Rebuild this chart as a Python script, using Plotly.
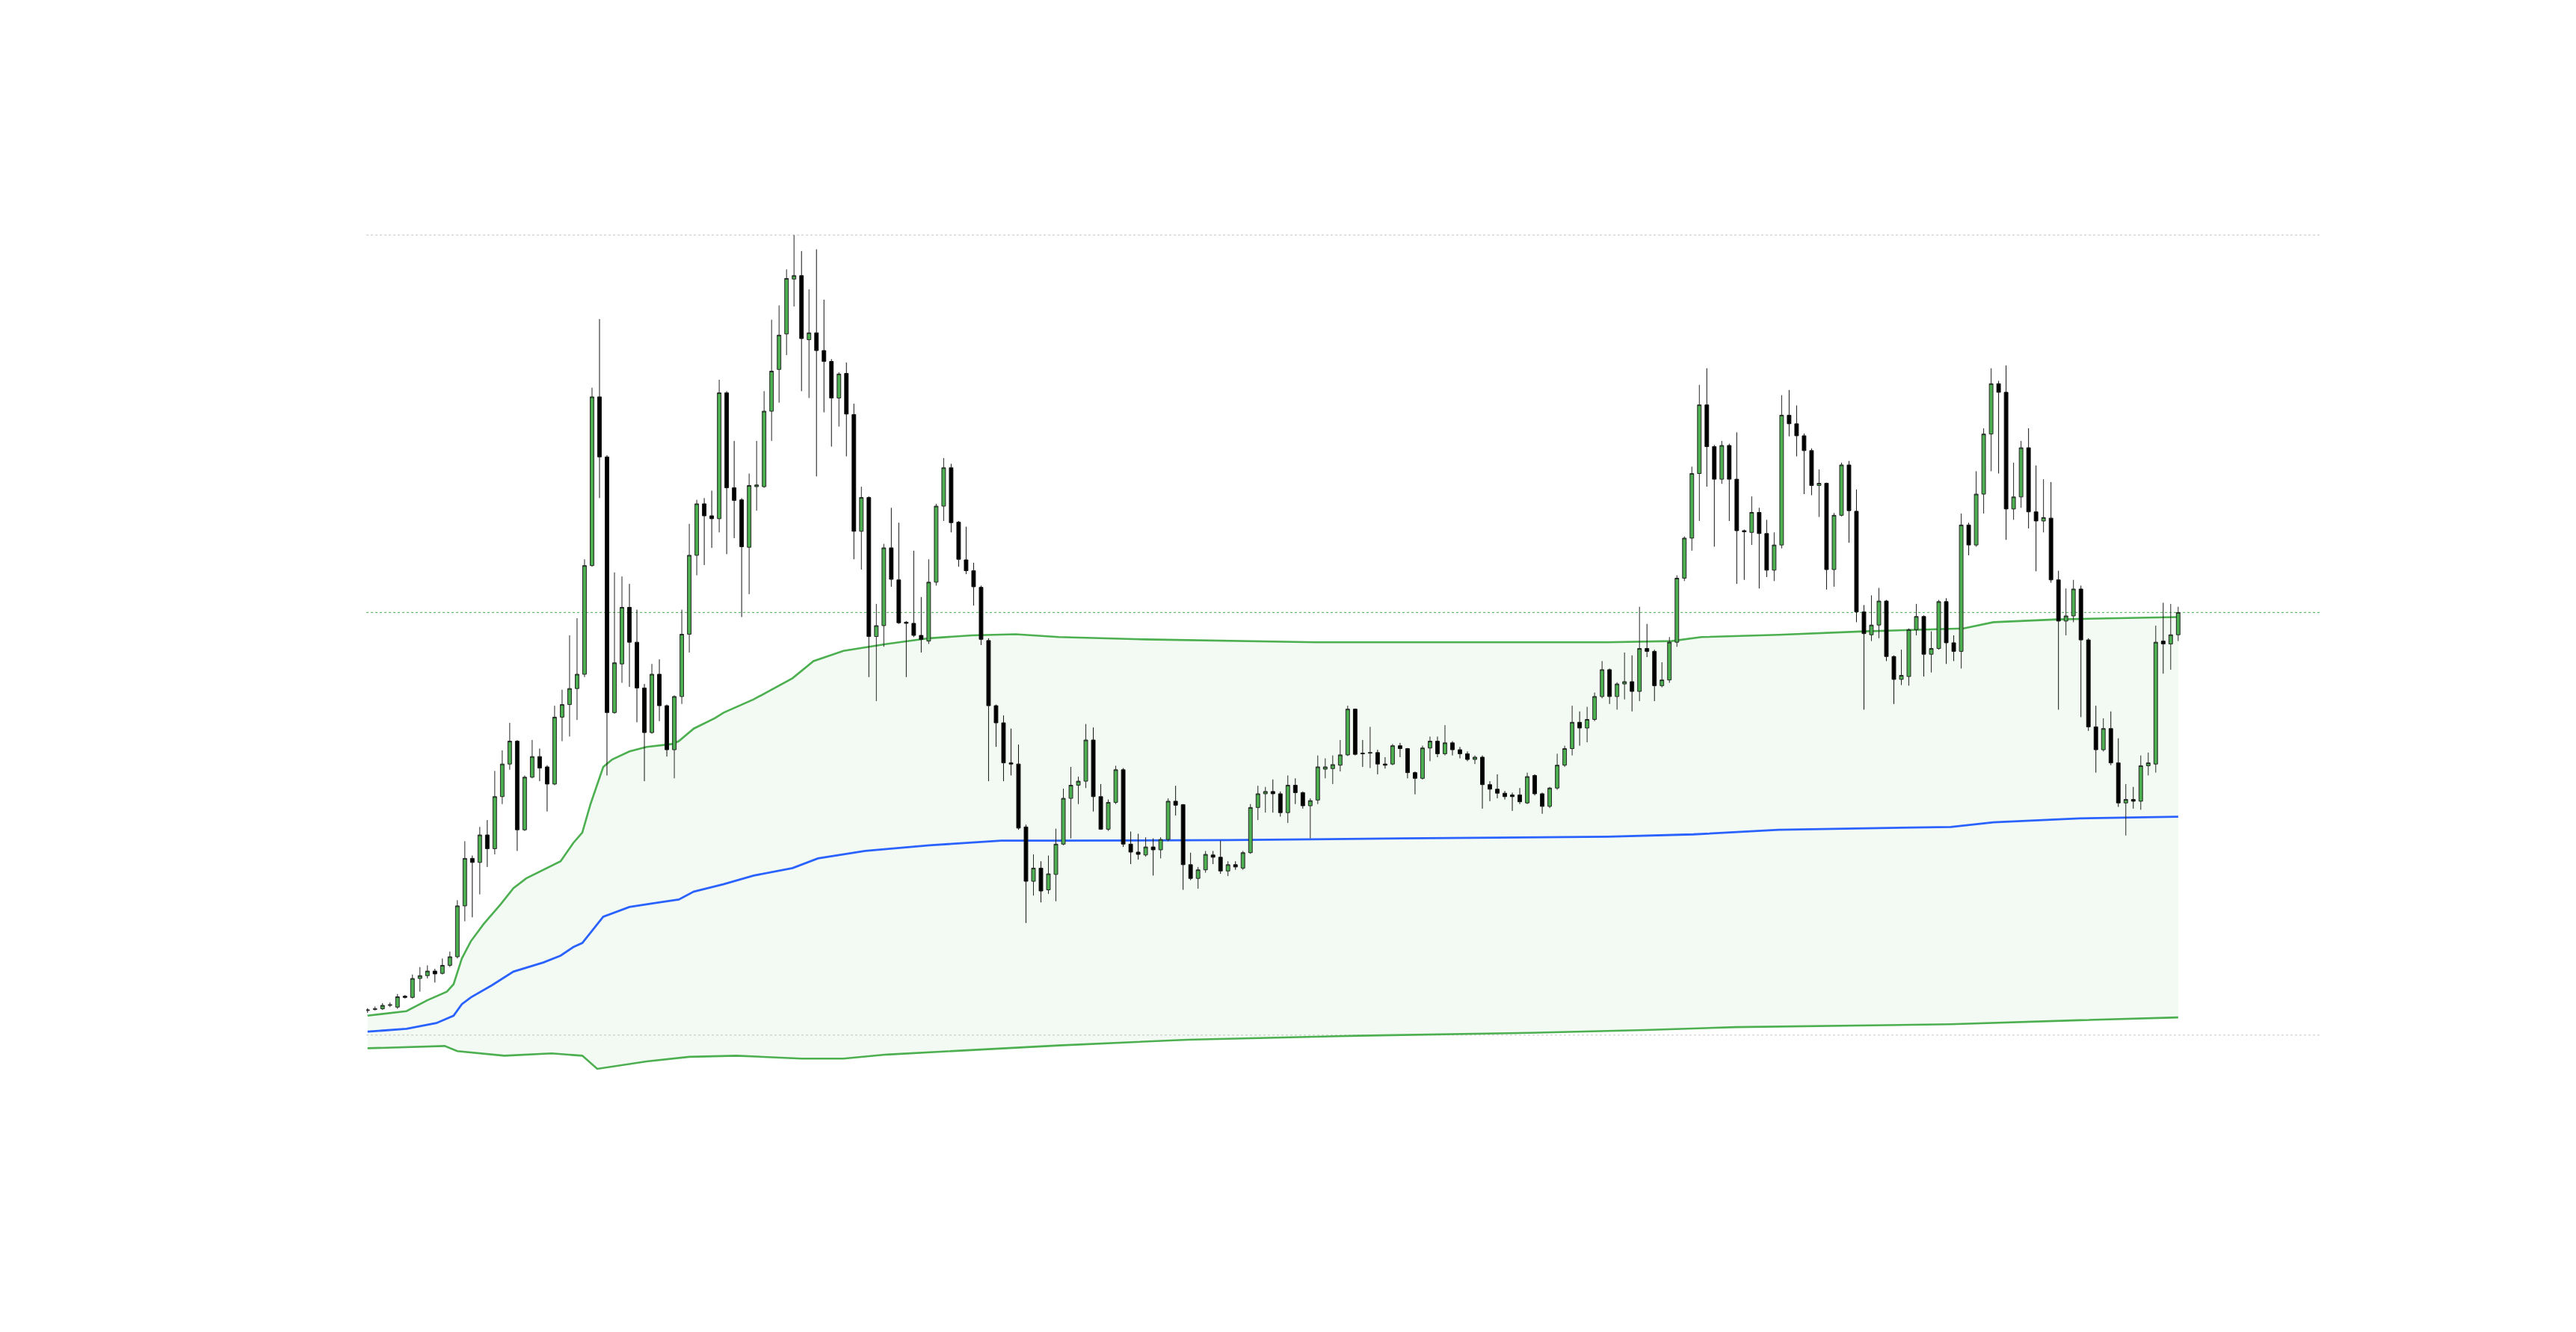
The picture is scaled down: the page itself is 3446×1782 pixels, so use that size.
import plotly.graph_objects as go

# ---- candle data (arbitrary price units) ----
opens = [12.9,13.1,13.2,13.8,13.5,15.4,15.2,18.5,19.0,19.8,19.4,20.8,22.3,31.2,39.5,38.8,43.6,41.2,50.3,56.0,
         60.0,44.5,53.7,57.3,55.5,52.5,64.2,66.4,69.2,71.7,90.7,120.2,109.7,65.0,73.5,83.4,77.3,69.3,61.5,71.7,
         66.2,58.5,67.8,78.7,92.5,101.5,99.4,98.9,120.9,104.3,102.2,93.9,104.5,104.5,117.7,125.0,131.2,140.8,141.4,130.2,
         131.4,128.3,126.4,120.0,124.3,117.1,96.7,102.6,78.3,80.2,93.8,88.2,80.8,80.6,78.5,77.5,87.8,101.1,107.8,98.3,
         91.7,89.8,86.9,77.6,66.2,63.2,56.2,56.0,45.0,35.5,37.8,34.0,36.7,42.0,50.0,52.3,53.0,60.2,50.3,44.6,
         49.3,55.0,42.0,40.6,40.1,41.5,41.0,42.8,49.5,48.9,38.4,36.0,37.5,40.1,39.7,37.3,38.4,37.8,40.5,48.4,
         50.8,51.2,50.8,47.5,52.3,51.0,48.7,49.7,55.1,55.2,55.8,57.6,65.6,57.9,57.9,58.0,56.0,56.0,59.2,58.7,
         54.5,53.5,58.8,60.0,57.8,59.7,58.5,57.8,56.8,57.2,52.4,51.6,50.9,50.6,50.6,49.2,54.0,50.8,48.6,51.8,
         55.8,58.7,63.3,62.3,63.8,67.8,72.5,67.8,70.0,70.4,68.7,76.2,75.7,69.7,70.7,77.3,88.5,95.5,106.8,118.8,
         111.5,105.8,111.7,105.8,96.8,96.5,100.0,96.3,89.9,94.3,117.0,115.5,113.4,110.8,104.7,105.1,90.0,99.5,108.3,100.2,
         82.6,78.6,80.3,84.5,74.8,70.8,71.3,79.5,81.8,75.2,76.2,84.4,77.2,75.7,97.8,94.3,103.2,113.7,122.5,121.0,
         100.6,102.7,111.3,100.1,98.5,99.0,88.2,81.0,81.9,86.6,77.7,62.5,58.5,62.2,56.2,49.2,49.8,49.5,55.7,56.0,
         77.5,77.0,78.6]
highs = [13.3,13.6,14.2,14.3,15.8,15.6,19.2,20.5,20.8,20.2,22.0,23.2,32.2,42.5,40.0,45.0,46.2,54.8,58.4,63.2,
         60.2,54.0,60.2,58.7,55.8,66.2,69.0,78.5,81.5,91.8,121.8,133.8,110.0,89.5,88.8,87.5,83.0,70.0,73.5,74.3,
         66.4,68.0,83.0,98.0,102.2,102.5,103.8,123.2,121.2,112.5,102.5,106.8,112.5,121.2,133.7,136.2,142.5,148.5,145.7,139.0,
         146.0,137.2,126.8,124.5,126.2,119.0,104.5,102.8,84.0,94.5,100.8,98.2,81.0,93.3,85.2,91.8,101.5,109.5,108.5,98.5,
         97.5,91.2,87.2,78.0,66.4,64.5,62.2,59.4,45.4,40.2,39.0,40.0,44.7,51.7,55.5,53.8,63.0,62.4,52.5,49.8,
         55.7,55.3,44.2,43.8,43.2,43.0,43.2,50.0,52.2,49.0,40.5,38.0,40.8,40.8,42.6,39.0,39.0,40.8,49.0,52.2,
         52.0,53.3,51.2,54.0,53.5,51.2,50.0,57.5,57.0,57.5,60.2,66.2,65.7,60.2,62.5,58.5,57.2,59.5,59.7,58.8,
         54.7,59.2,60.8,60.8,62.8,60.0,59.0,58.2,57.5,57.5,53.0,54.2,51.3,51.0,51.8,54.5,54.2,51.0,52.0,57.8,
         59.2,66.2,65.2,66.0,68.5,74.0,72.7,70.3,75.5,75.0,83.5,80.5,76.0,73.8,78.2,89.0,95.8,108.0,122.3,125.2,
         111.8,112.5,112.0,114.0,97.0,102.8,100.8,98.7,96.5,120.5,121.4,118.7,113.8,111.2,107.5,105.2,99.9,108.7,109.0,104.0,
         83.8,85.5,86.8,84.7,75.0,76.0,79.7,84.0,82.0,79.2,84.7,85.0,78.5,99.8,98.2,107.2,114.7,125.2,123.0,125.7,
         108.7,112.5,114.7,108.2,105.8,105.3,89.8,86.7,88.2,87.2,78.0,66.2,64.0,65.2,60.5,52.5,52.0,57.5,58.0,80.2,
         84.2,84.0,83.5]
lows = [12.5,12.9,13.0,13.5,13.2,15.0,15.0,16.2,18.5,17.8,19.2,20.5,22.0,28.5,29.2,33.2,38.0,40.2,49.0,55.0,
        40.8,44.3,53.5,53.0,47.7,52.3,60.0,60.8,63.7,71.2,90.5,102.5,54.0,64.8,70.2,69.5,63.3,53.0,61.3,63.5,
        57.3,53.5,66.5,75.5,89.0,90.8,93.8,96.5,92.7,95.5,81.7,85.7,100.3,104.3,112.5,119.2,127.5,136.0,121.2,120.0,
        106.3,117.5,111.5,115.0,109.8,91.8,90.0,71.2,67.0,76.5,87.0,80.5,71.2,78.2,75.5,77.0,87.2,98.5,96.5,90.5,
        89.2,83.7,76.8,53.0,59.0,53.0,54.0,44.5,28.2,33.0,31.8,33.3,32.0,41.8,43.0,49.0,51.8,47.7,44.5,44.3,
        49.0,41.5,38.5,39.3,39.8,36.5,39.5,42.5,47.0,34.0,35.7,34.2,37.0,38.5,36.8,36.4,37.5,37.5,40.3,46.2,
        47.5,47.5,46.8,45.7,49.0,48.2,43.0,49.0,53.5,52.5,54.7,57.4,57.5,55.5,55.3,54.2,55.2,55.8,57.2,53.5,
        50.7,53.3,56.5,57.2,57.5,57.5,57.0,56.5,56.0,48.2,49.5,50.0,49.8,47.8,49.0,49.0,50.5,47.3,48.3,51.5,
        55.5,57.5,59.2,59.8,63.5,67.5,66.5,65.5,67.3,65.2,67.0,74.7,67.0,69.4,70.2,76.5,88.0,93.3,98.5,104.5,
        94.0,105.0,98.5,87.5,88.2,94.3,86.7,88.7,88.0,93.7,113.3,109.8,103.2,103.0,99.2,86.5,87.0,99.3,94.7,80.8,
        65.5,77.5,78.0,74.0,66.5,69.8,69.7,78.5,71.3,72.0,76.0,73.5,74.0,72.7,92.5,94.0,99.8,107.2,106.8,95.2,
        98.7,100.8,97.2,89.7,96.5,87.7,65.5,78.5,80.8,64.2,61.8,54.5,58.2,55.8,48.5,43.5,48.2,48.0,54.0,54.5,
        71.8,72.5,77.5]
closes = [13.0,13.2,13.8,13.9,15.3,15.2,18.5,19.0,19.8,19.3,20.8,22.3,31.2,39.5,38.8,43.6,41.2,50.3,56.0,60.0,
          44.5,53.7,57.3,55.3,52.5,64.2,66.4,69.2,71.7,90.7,120.2,109.7,65.0,73.7,83.4,77.3,69.3,61.5,71.7,66.2,
          58.5,67.8,78.7,92.5,101.5,99.4,98.9,120.9,104.3,102.1,94.0,104.7,104.8,117.7,124.7,131.0,140.9,141.4,130.4,131.4,
          128.3,126.4,120.0,124.2,117.2,96.7,102.6,78.3,80.2,93.8,88.3,80.7,80.6,78.5,77.8,87.8,101.1,107.8,98.2,91.8,
          89.8,87.0,77.8,66.2,63.2,56.2,56.0,44.8,35.5,37.8,33.8,36.8,42.0,50.0,52.3,53.0,60.2,50.3,44.6,49.3,
          55.0,42.0,40.6,40.2,41.5,41.0,42.8,49.5,48.8,38.4,36.0,37.5,40.2,39.7,37.3,38.4,38.0,40.5,48.4,50.8,
          51.2,50.8,47.5,52.3,51.0,48.7,49.6,55.5,55.5,55.9,57.6,65.6,57.7,57.8,58.0,56.0,55.8,59.2,58.7,54.5,
          53.5,58.8,60.0,57.8,59.7,58.5,57.8,56.8,57.2,52.4,51.6,50.9,50.3,50.3,49.4,53.8,50.8,48.6,51.8,55.8,
          58.7,63.3,62.3,63.8,67.8,72.5,67.8,70.0,70.4,68.7,76.2,75.7,69.7,70.7,77.3,88.5,95.5,106.8,118.8,111.5,
          105.8,111.7,105.8,96.8,96.6,100.0,96.3,89.9,94.3,117.0,115.5,113.4,110.8,104.7,105.1,90.0,99.5,108.3,100.3,82.6,
          78.8,80.3,84.5,74.8,70.8,71.5,79.5,81.8,75.2,76.2,84.4,77.2,75.7,97.8,94.3,103.2,113.7,122.5,121.0,100.6,
          102.7,111.3,100.1,98.5,99.1,88.2,81.0,81.9,86.6,77.7,62.5,58.5,62.2,56.2,49.2,49.8,49.5,55.7,56.2,77.3,
          77.0,78.6,82.5]

# ---- band values read at sampled bar positions ----
upper_x = [0, 5.2, 8.0, 10.6, 11.5, 12.6, 13.8, 15.5, 17.8, 19.5, 21.2, 25.8, 27.5, 28.7, 29.8, 31.5, 32.7, 35.0,
           37.3, 40.7, 41.6, 43.6, 46.4, 47.6, 51.6, 56.8, 59.6, 63.6, 69.4, 75.1, 80.8, 84.7, 86.6, 92.4, 103.8,
           126.8, 144.0, 165.7, 174.3, 178.3, 188.6, 200.1, 213.3, 217.3, 225.9, 242]
upper = [12.0, 12.8, 14.7, 16.2, 17.5, 22.0, 25.0, 28.0, 31.5, 34.3, 36.0, 39.0, 42.2, 44.0, 49.0, 55.5, 56.8, 58.2,
         59.0, 59.5, 60.0, 62.2, 64.0, 65.0, 67.3, 71.0, 74.0, 75.8, 77.0, 78.0, 78.5, 78.7, 78.7, 78.2, 77.8,
         77.3, 77.3, 77.3, 77.5, 78.2, 78.6, 79.2, 79.7, 80.8, 81.3, 81.7]
middle_x = [0, 5.2, 9.2, 11.5, 12.6, 13.8, 16.6, 19.5, 23.5, 25.8, 27.5, 28.7, 31.5, 35.0, 38.4, 41.6, 43.6, 47.6,
            51.6, 56.8, 60.2, 66.5, 75.1, 84.7, 92.4, 115.3, 138.2, 161.2, 165.7, 177.2, 188.6, 211.6, 217.3, 228.8, 242]
middle = [9.2, 9.7, 10.7, 12.0, 14.0, 15.2, 17.3, 19.7, 21.3, 22.5, 24.0, 24.7, 29.3, 31.0, 31.7, 32.3, 33.7, 35.0,
          36.5, 37.8, 39.5, 40.8, 41.8, 42.6, 42.6, 42.7, 43.0, 43.3, 43.3, 43.7, 44.5, 45.0, 45.8, 46.5, 46.8]
lower_x = [0, 10.3, 12.0, 18.3, 24.6, 28.7, 30.7, 35.0, 37.3, 43.0, 49.3, 58.0, 63.6, 69.4, 78.0, 84.7, 92.4,
           109.6, 132.5, 155.4, 170.8, 182.9, 211.6, 228.8, 242]
lower = [6.3, 6.7, 5.8, 5.0, 5.4, 5.0, 2.7, 3.5, 4.0, 4.8, 5.0, 4.5, 4.5, 5.2, 5.8, 6.3, 6.8,
         7.8, 8.5, 9.0, 9.5, 10.0, 10.5, 11.2, 11.7]

# reference levels
top_level = max(highs)
bottom_level = 8.6
last_close = closes[-1]

bars = list(range(len(opens)))

GREEN = "#4caf50"
BLUE = "#2962ff"
YRANGE = [0.08, 156.92]

fig = go.Figure()

fig.add_trace(go.Scatter(
    x=upper_x + lower_x[::-1], y=upper + lower[::-1],
    fill="toself", fillcolor="rgba(76,175,80,0.065)",
    line=dict(width=0), mode="lines", hoverinfo="skip", showlegend=False))
fig.add_trace(go.Scatter(x=upper_x, y=upper, mode="lines",
                         line=dict(color=GREEN, width=2.6), showlegend=False))
fig.add_trace(go.Scatter(x=middle_x, y=middle, mode="lines",
                         line=dict(color=BLUE, width=2.8), showlegend=False))
fig.add_trace(go.Scatter(x=lower_x, y=lower, mode="lines",
                         line=dict(color=GREEN, width=2.6), showlegend=False))

fig.add_trace(go.Candlestick(
    x=bars, open=opens, high=highs, low=lows, close=closes,
    yaxis="y2",
    increasing=dict(fillcolor=GREEN, line=dict(color="#262626", width=1)),
    decreasing=dict(fillcolor="#000000", line=dict(color="#111111", width=1)),
    whiskerwidth=0, showlegend=False))

for lvl, col in [(top_level, "#c8c8c8"), (bottom_level, "#c8c8c8"), (last_close, GREEN)]:
    fig.add_shape(type="line", xref="paper", x0=0, x1=1, yref="y", y0=lvl, y1=lvl,
                  line=dict(color=col, width=1, dash="dot"), layer="below")

fig.update_layout(
    width=3446, height=1782,
    margin=dict(l=482, r=348, t=242, b=340),
    paper_bgcolor="white", plot_bgcolor="white",
    showlegend=False,
    xaxis=dict(range=[-0.17, 261.2], visible=False, showgrid=False, zeroline=False,
               rangeslider=dict(visible=False)),
    yaxis=dict(range=YRANGE, visible=False, showgrid=False, zeroline=False),
    yaxis2=dict(range=YRANGE, overlaying="y", visible=False, showgrid=False, zeroline=False),
)

fig.write_html("out.html")
